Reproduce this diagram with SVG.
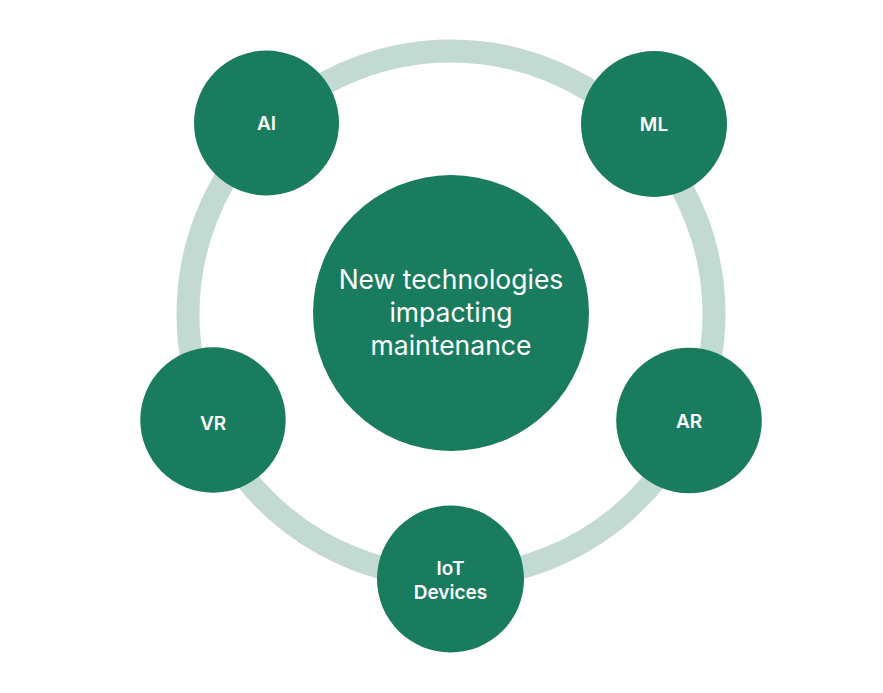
<svg xmlns="http://www.w3.org/2000/svg" width="883" height="693" viewBox="0 0 883 693">
<style>
.node{fill:#1a7c5f}
.lbl{font-family:Inter,"Liberation Sans",sans-serif;font-size:19px;font-weight:600;fill:#ffffff;text-anchor:middle}
.main{font-family:Inter,"Liberation Sans",sans-serif;font-size:26.5px;font-weight:400;fill:#ffffff;text-anchor:middle}
.ring{fill:none;stroke:#c2dad2;stroke-width:23}
</style>
<rect width="883" height="693" fill="#ffffff"/>
<g id="connectors">
<circle class="ring" cx="451" cy="314" r="263"/>
</g>
<g id="center">
<circle class="node" cx="451" cy="313" r="138"/>
<text class="main" x="451" y="289">New technologies</text>
<text class="main" x="451" y="322">impacting</text>
<text class="main" x="451" y="355">maintenance</text>
</g>
<g id="ai">
<circle class="node" cx="266.5" cy="123" r="72.5"/>
<text class="lbl" x="266.5" y="130">AI</text>
</g>
<g id="ml">
<circle class="node" cx="654" cy="124" r="73"/>
<text class="lbl" x="654" y="131">ML</text>
</g>
<g id="vr">
<circle class="node" cx="213" cy="420" r="72.7"/>
<text class="lbl" x="213" y="429.5">VR</text>
</g>
<g id="ar">
<circle class="node" cx="689" cy="420.5" r="72.8"/>
<text class="lbl" x="689" y="428">AR</text>
</g>
<g id="iot">
<circle class="node" cx="450.5" cy="579" r="73.5"/>
<text class="lbl" x="450.5" y="574.5">IoT</text>
<text class="lbl" x="450.5" y="598.5">Devices</text>
</g>
</svg>
